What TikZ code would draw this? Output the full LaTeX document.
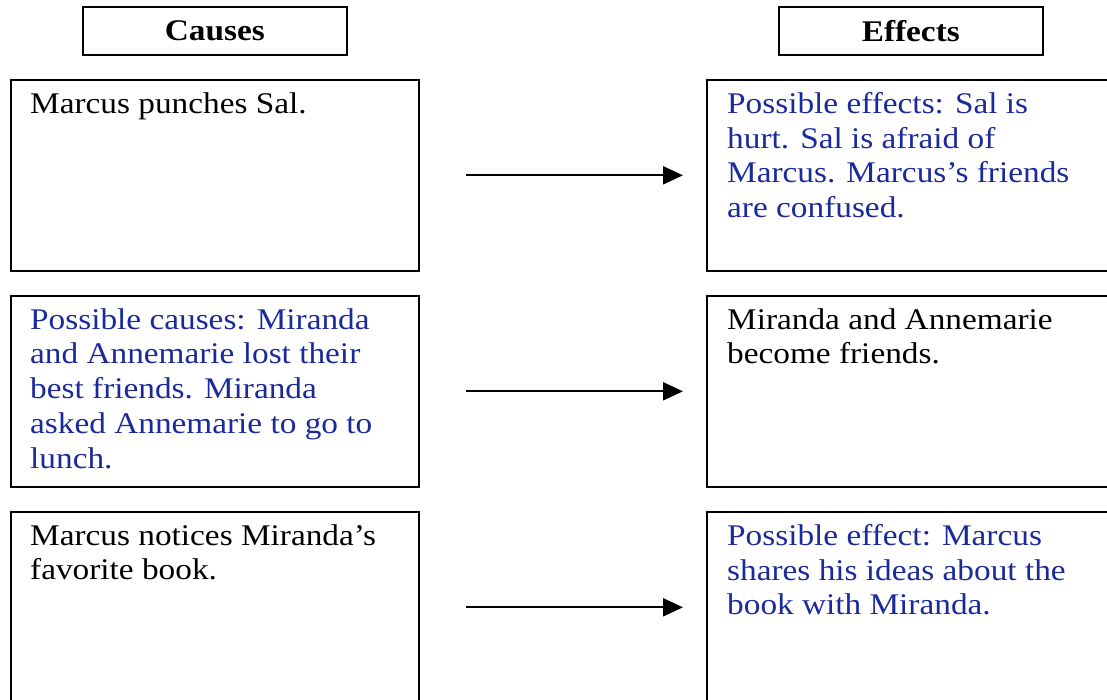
\documentclass[tikz,border=0pt]{standalone}
\usepackage{fontspec}
\setmainfont[FakeStretch=1.11]{Liberation Serif}
\usepackage{xcolor}
\usepackage{tikz}
\usetikzlibrary{arrows.meta}
\definecolor{answercolor}{HTML}{1A2A9A}

\begin{document}
\begin{tikzpicture}[
    x=1pt, y=-1pt,
    cell/.style={rectangle, draw, line width=1.6pt, anchor=north west,
                 minimum width=408pt, minimum height=191pt, inner sep=0pt},
    head/.style={rectangle, draw, line width=1.6pt, anchor=north west,
                 minimum width=264pt, minimum height=48pt, inner sep=0pt,
                 font=\fontsize{30}{32}\selectfont\bfseries},
    txt/.style={anchor=north west, inner sep=0pt, align=left,
                font=\fontsize{30}{34.8}\selectfont},
    answer/.style={txt, text=answercolor},
    link/.style={-{Triangle[length=20pt, width=18pt]}, line width=2pt,
                 shorten <=46pt, shorten >=23pt}
]
\useasboundingbox (0,0) rectangle (1107,700);

% headings
\node[head] (causes) at (82,6) {Causes};
\node[head] (effects) at (778,6) {Effects};

% left column
\node[cell] (c1) at (10,79) {};
\node[cell] (c2) at (10,295) {};
\node[cell] (c3) at (10,511) {};

% right column
\node[cell] (e1) at (706,79) {};
\node[cell] (e2) at (706,295) {};
\node[cell] (e3) at (706,511) {};

% texts
\node[txt] (c1t) at (30,92) {Marcus punches Sal.};
\node[answer] (c2t) at (30,308) {Possible causes: Miranda\\and Annemarie lost their\\best friends. Miranda\\asked Annemarie to go to\\lunch.};
\node[txt] (c3t) at (30,524) {Marcus notices Miranda's\\favorite book.};
\node[answer] (e1t) at (727,92) {Possible effects: Sal is\\hurt. Sal is afraid of\\Marcus. Marcus's friends\\are confused.};
\node[txt] (e2t) at (727,308) {Miranda and Annemarie\\become friends.};
\node[answer] (e3t) at (727,524) {Possible effect: Marcus\\shares his ideas about the\\book with Miranda.};

\draw[link] (c1) -- (e1);
\draw[link] (c2) -- (e2);
\draw[link] (c3) -- (e3);
\end{tikzpicture}
\end{document}
